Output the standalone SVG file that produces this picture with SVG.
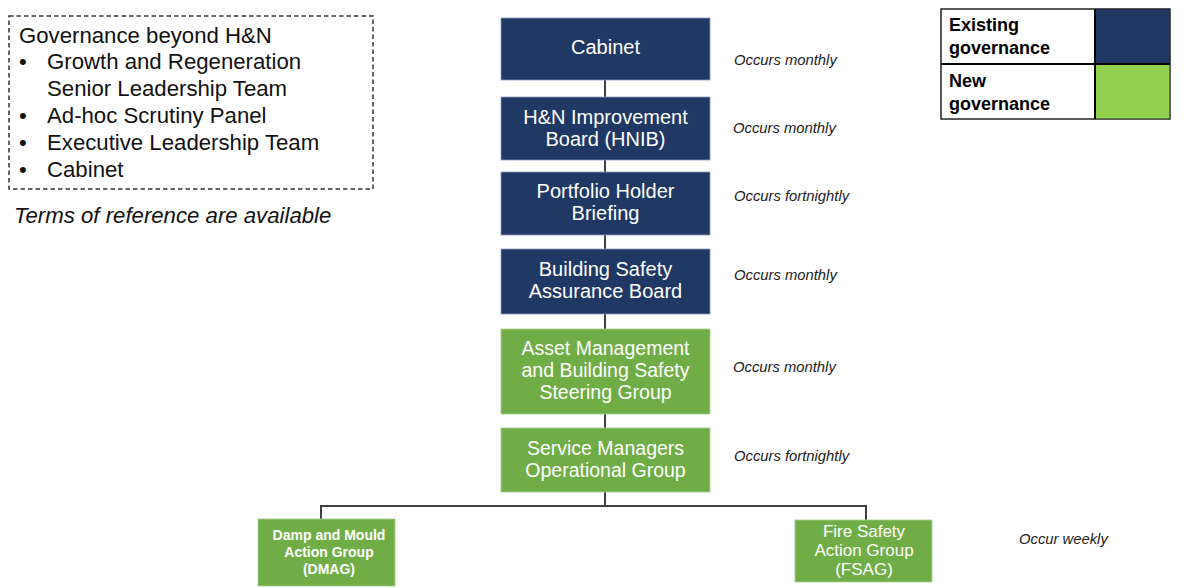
<svg xmlns="http://www.w3.org/2000/svg" width="1188" height="588" viewBox="0 0 1188 588">
<style>
text{font-family:"Liberation Sans",Arial,sans-serif}
.old{fill:#203864;stroke:#8a9ab8;stroke-width:0.8}
.new{fill:#70ad47;stroke:#a9cf8f;stroke-width:0.8}
.bt{fill:#fff;font-size:20px;text-anchor:middle}
.gt{fill:#fff;font-size:19.5px;text-anchor:middle}
.occ{fill:#222;font-size:14.8px;font-style:italic}
.side{fill:#111;font-size:22.2px}
.leg{fill:#000;font-size:18px;font-weight:bold}
.conn{stroke:#404040;stroke-width:2;fill:none}
</style>
<rect width="1188" height="588" fill="#fff"/>
<g id="scope-box">
<rect x="9" y="16" width="364" height="173" fill="none" stroke="#333" stroke-width="1.5" stroke-dasharray="4.5,3"/>
<text class="side" x="19" y="43">Governance beyond H&amp;N</text>
<text class="side" x="19" y="69">•</text><text class="side" x="47" y="69">Growth and Regeneration</text>
<text class="side" x="47" y="96">Senior Leadership Team</text>
<text class="side" x="19" y="123">•</text><text class="side" x="47" y="123">Ad-hoc Scrutiny Panel</text>
<text class="side" x="19" y="150">•</text><text class="side" x="47" y="150">Executive Leadership Team</text>
<text class="side" x="19" y="177">•</text><text class="side" x="47" y="177">Cabinet</text>
</g>
<text x="14" y="223" fill="#111" font-size="22.2" font-style="italic" style="font-family:'Liberation Sans',Arial,sans-serif">Terms of reference are available</text>
<g id="legend">
<rect x="941" y="9" width="229" height="110" fill="#fff" stroke="#222" stroke-width="1"/>
<rect x="1095" y="9" width="75" height="55" fill="#203864"/>
<rect x="1095" y="64" width="75" height="55" fill="#92d050"/>
<line x1="941" y1="64" x2="1170" y2="64" stroke="#000" stroke-width="2"/>
<line x1="1095" y1="9" x2="1095" y2="119" stroke="#000" stroke-width="2"/>
<rect x="941" y="9" width="229" height="110" fill="none" stroke="#222" stroke-width="1"/>
<text class="leg" x="949" y="31">Existing</text>
<text class="leg" x="949" y="54">governance</text>
<text class="leg" x="949" y="87">New</text>
<text class="leg" x="949" y="110">governance</text>
</g>
<g id="connectors">
<path class="conn" d="M605 80V97M605 160V172M605 235V249M605 314V329M605 414V428M605 492V506M321 520V506H866V520"/>
</g>
<g id="cabinet">
<rect class="old" x="501" y="18" width="209" height="62"/>
<text class="bt" x="605.5" y="54">Cabinet</text>
</g>
<g id="hnib">
<rect class="old" x="501" y="97" width="209" height="63"/>
<text class="bt" x="605.5" y="124">H&amp;N Improvement</text>
<text class="bt" x="605.5" y="146">Board (HNIB)</text>
</g>
<g id="portfolio">
<rect class="old" x="501" y="172" width="209" height="63"/>
<text class="bt" x="605.5" y="198">Portfolio Holder</text>
<text class="bt" x="605.5" y="220">Briefing</text>
</g>
<g id="bsab">
<rect class="old" x="501" y="249" width="209" height="65"/>
<text class="bt" x="605.5" y="276">Building Safety</text>
<text class="bt" x="605.5" y="298">Assurance Board</text>
</g>
<g id="amsg">
<rect class="new" x="501" y="329" width="209" height="85"/>
<text class="gt" x="605.5" y="355">Asset Management</text>
<text class="gt" x="605.5" y="377">and Building Safety</text>
<text class="gt" x="605.5" y="399">Steering Group</text>
</g>
<g id="smog">
<rect class="new" x="501" y="428" width="209" height="64"/>
<text class="gt" x="605.5" y="455">Service Managers</text>
<text class="gt" x="605.5" y="477">Operational Group</text>
</g>
<g id="dmag">
<rect class="new" x="258" y="519" width="137" height="67"/>
<text x="329" y="540" fill="#fff" font-size="14" font-weight="bold" text-anchor="middle">Damp and Mould</text>
<text x="329" y="557" fill="#fff" font-size="14" font-weight="bold" text-anchor="middle">Action Group</text>
<text x="329" y="574" fill="#fff" font-size="14" font-weight="bold" text-anchor="middle">(DMAG)</text>
</g>
<g id="fsag">
<rect class="new" x="795" y="520" width="137" height="62"/>
<text x="864" y="537" fill="#fff" font-size="17" text-anchor="middle">Fire Safety</text>
<text x="864" y="556" fill="#fff" font-size="17" text-anchor="middle">Action Group</text>
<text x="864" y="575" fill="#fff" font-size="17" text-anchor="middle">(FSAG)</text>
</g>
<g id="frequencies">
<text class="occ" x="734" y="65">Occurs monthly</text>
<text class="occ" x="733" y="133">Occurs monthly</text>
<text class="occ" x="734" y="201">Occurs fortnightly</text>
<text class="occ" x="734" y="280">Occurs monthly</text>
<text class="occ" x="733" y="372">Occurs monthly</text>
<text class="occ" x="734" y="461">Occurs fortnightly</text>
<text class="occ" x="1019" y="544">Occur weekly</text>
</g>
</svg>
